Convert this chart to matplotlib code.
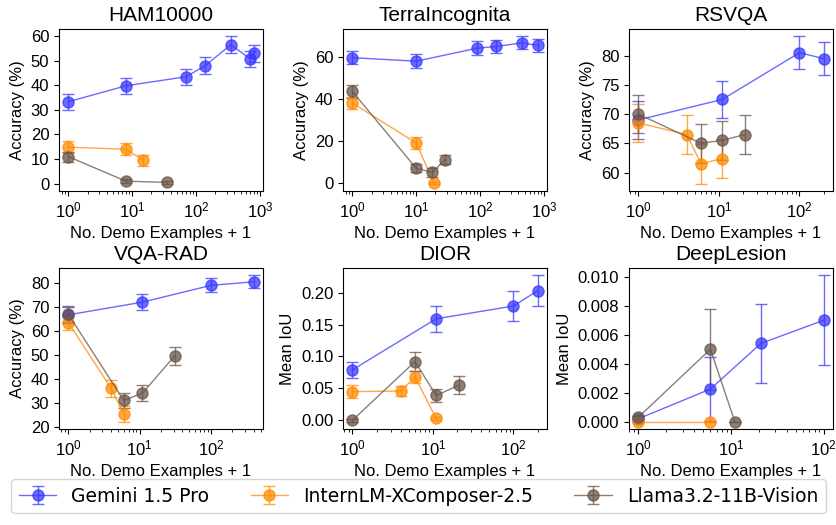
import numpy as np
import matplotlib
matplotlib.use('Agg')
import matplotlib.pyplot as plt

plt.rcParams['font.family'] = ['Liberation Sans', 'DejaVu Sans']

models = ['Gemini 1.5 Pro', 'InternLM-XComposer-2.5', 'Llama3.2-11B-Vision']
colors = ['#3838ff', '#ff8a00', '#685448']

titles = ['HAM10000', 'TerraIncognita', 'RSVQA', 'VQA-RAD', 'DIOR', 'DeepLesion']
ylabels = ['Accuracy (%)', 'Accuracy (%)', 'Accuracy (%)', 'Accuracy (%)', 'Mean IoU', 'Mean IoU']
yticks = [[0, 10, 20, 30, 40, 50, 60], [0, 20, 40, 60], [60, 65, 70, 75, 80],
          [20, 30, 40, 50, 60, 70, 80], [0.0, 0.05, 0.10, 0.15, 0.20],
          [0.0, 0.002, 0.004, 0.006, 0.008, 0.010]]
yfmt = ['%d', '%d', '%d', '%d', '%.2f', '%.3f']

# (x = demo examples + 1, y, err) per model per dataset
ham_x = [[1, 8, 70, 140, 350, 700, 800], [1, 8, 15], [1, 8, 35]]
ham_y = [[33.3, 39.8, 43.5, 48.0, 56.5, 50.8, 53.0], [14.8, 14.0, 9.5], [11.0, 1.0, 0.5]]
ham_e = [[3.2, 3.3, 3.3, 3.4, 3.4, 3.3, 3.4], [2.5, 2.4, 2.2], [2.0, 0.7, 0.5]]

terra_x = [[1, 10, 90, 180, 450, 800], [1, 10, 19], [1, 10, 18, 28]]
terra_y = [[59.5, 57.8, 64.0, 64.8, 66.5, 65.3], [38.0, 19.0, 0.0], [43.5, 7.0, 5.0, 11.0]]
terra_e = [[3.2, 3.3, 3.2, 3.2, 3.1, 3.2], [3.0, 2.8, 0.3], [3.0, 2.0, 2.0, 2.2]]

rsvqa_x = [[1, 11, 100, 200], [1, 4, 6, 11], [1, 6, 11, 21]]
rsvqa_y = [[69.0, 72.5, 80.5, 79.5], [68.5, 66.5, 61.5, 62.4], [70.0, 65.0, 65.5, 66.5]]
rsvqa_e = [[3.3, 3.2, 2.8, 2.8], [3.3, 3.3, 3.4, 3.3], [3.3, 3.3, 3.3, 3.3]]

vqarad_x = [[1, 11, 100, 400], [1, 4, 6], [1, 6, 11, 31]]
vqarad_y = [[66.7, 72.0, 79.0, 80.5], [63.5, 36.0, 25.3], [67.0, 31.0, 34.0, 49.5]]
vqarad_e = [[3.2, 3.3, 2.9, 2.7], [3.2, 3.4, 3.2], [3.3, 3.2, 3.3, 3.6]]

dior_x = [[1, 11, 100, 200], [1, 4, 6, 11], [1, 6, 11, 21]]
dior_y = [[0.079, 0.159, 0.179, 0.203], [0.045, 0.046, 0.068, 0.003], [0.0, 0.092, 0.039, 0.055]]
dior_e = [[0.013, 0.020, 0.023, 0.024], [0.010, 0.008, 0.010, 0.003], [0.002, 0.015, 0.010, 0.014]]

deep_x = [[1, 6, 21, 100], [1, 6], [1, 6, 11]]
deep_y = [[0.0002, 0.00225, 0.0054, 0.0070], [0.0, 0.0], [0.0003, 0.005, 0.0]]
deep_e = [[0.0002, 0.0022, 0.0027, 0.0031], [0.0, 0.0], [0.0001, 0.0028, 0.0]]

panels = [(ham_x, ham_y, ham_e), (terra_x, terra_y, terra_e), (rsvqa_x, rsvqa_y, rsvqa_e),
          (vqarad_x, vqarad_y, vqarad_e), (dior_x, dior_y, dior_e), (deep_x, deep_y, deep_e)]

fig = plt.figure(figsize=(8.37, 5.25), dpi=100)
lefts = [59 / 837, 343 / 837, 629 / 837]
w = 204 / 837
rows = [(1 - 191 / 525, 162 / 525), (1 - 429 / 525, 161 / 525)]

handles = []
for i, (xs, ys, es) in enumerate(panels):
    bottom, h = rows[i // 3]
    ax = fig.add_axes([lefts[i % 3], bottom, w, h])
    for k in range(3):
        eb = ax.errorbar(xs[k], ys[k], yerr=es[k], color=colors[k], marker='o', markersize=8,
                         lw=1, capsize=4, alpha=0.75, label=models[k])
        if i == 0:
            handles.append(eb)
    ax.set_xscale('log')
    ax.set_yticks(yticks[i])
    ax.set_yticklabels([yfmt[i] % t for t in yticks[i]])
    ax.set_title(titles[i], fontsize=15)
    ax.set_xlabel('No. Demo Examples + 1', fontsize=12)
    ax.set_ylabel(ylabels[i], fontsize=12)
    ax.tick_params(labelsize=12)

fig.legend(handles, models, loc='lower center', bbox_to_anchor=(0.5, 0.005), ncol=3,
           prop={'family': 'DejaVu Sans', 'size': 13.5}, columnspacing=2.2, handlelength=2)

fig.savefig('out.png', dpi=100)
